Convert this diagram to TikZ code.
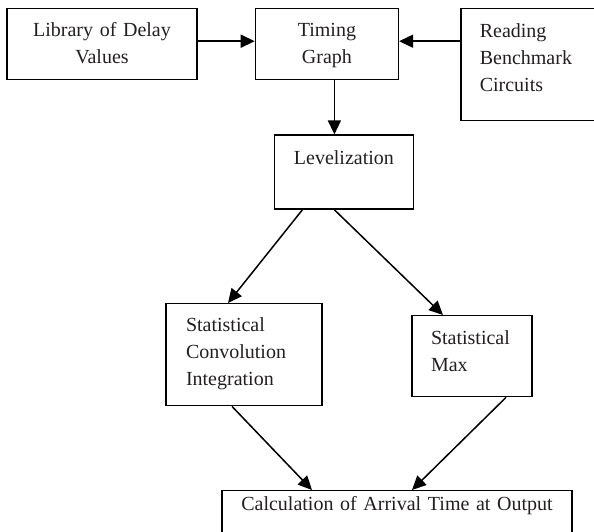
\documentclass[tikz,border=0pt]{standalone}
\usepackage{fontspec}
\setmainfont{Liberation Serif}
\usepackage{xcolor}
\usepackage{tikz}
\usetikzlibrary{arrows.meta,positioning,calc}
\definecolor{flowtext}{HTML}{231F20}

\begin{document}
\begin{tikzpicture}[
  x=1pt,y=-1pt,
  font=\fontsize{20}{27}\selectfont,
  stage/.style={draw,line width=1.4pt,text=flowtext,inner sep=0pt,align=center},
  stageleft/.style={stage,align=left},
  arrow/.style={-{Triangle[length=14pt,width=13pt]},line width=1.5pt}
]
  \useasboundingbox (0,0) rectangle (594,532);
  \clip (0,0) rectangle (594,532);

  \node[stage,minimum width=190pt,text width=190pt,text height=28pt,text depth=43pt,anchor=north] (lib) at (102,8) {Library of Delay\\Values};
  \node[stage,minimum width=143pt,text width=143pt,text height=28pt,text depth=43pt,right=57pt of lib] (timing) {Timing\\Graph};
  \node[stageleft,minimum width=150pt,text width=112pt,text height=29pt,text depth=83pt,right=61pt of timing.north east,anchor=north west] (reading) {Reading\\Benchmark\\Circuits};
  \node[stage,minimum width=139pt,text width=139pt,text height=29pt,text depth=45pt,below=54pt of timing,xshift=17pt] (level) {Levelization};

  \node[stageleft,minimum width=156pt,text width=116pt,text height=28pt,text depth=74pt,anchor=north] (conv) at (244,303) {Statistical\\Convolution\\Integration};
  \node[stageleft,minimum width=120pt,text width=82pt,text height=29pt,text depth=52pt,anchor=north] (max) at (472,315) {Statistical\\Max};
  \node[stage,minimum width=350pt,text width=350pt,text height=20pt,text depth=40pt,anchor=north] (calc) at (397,490) {Calculation of Arrival Time at Output};

  \draw[arrow] ([yshift=3pt]lib.east) -- ([yshift=3pt]timing.west);
  \draw[arrow] ([yshift=3pt]timing.east -| reading.west) -- ([yshift=3pt]timing.east);
  \draw[arrow] ([xshift=-9.5pt]level.north |- timing.south) -- ([xshift=-9.5pt]level.north);
  \draw[arrow] ([xshift=-41.5pt]level.south) -- ([xshift=-16pt]conv.north);
  \draw[arrow] ([xshift=-9.5pt]level.south) -- ([xshift=-29pt]max.north);
  \draw[arrow] ([xshift=-12pt]conv.south) -- ([xshift=-85pt]calc.north);
  \draw[arrow] ([xshift=34pt]max.south) -- ([xshift=15pt]calc.north);
\end{tikzpicture}
\end{document}
